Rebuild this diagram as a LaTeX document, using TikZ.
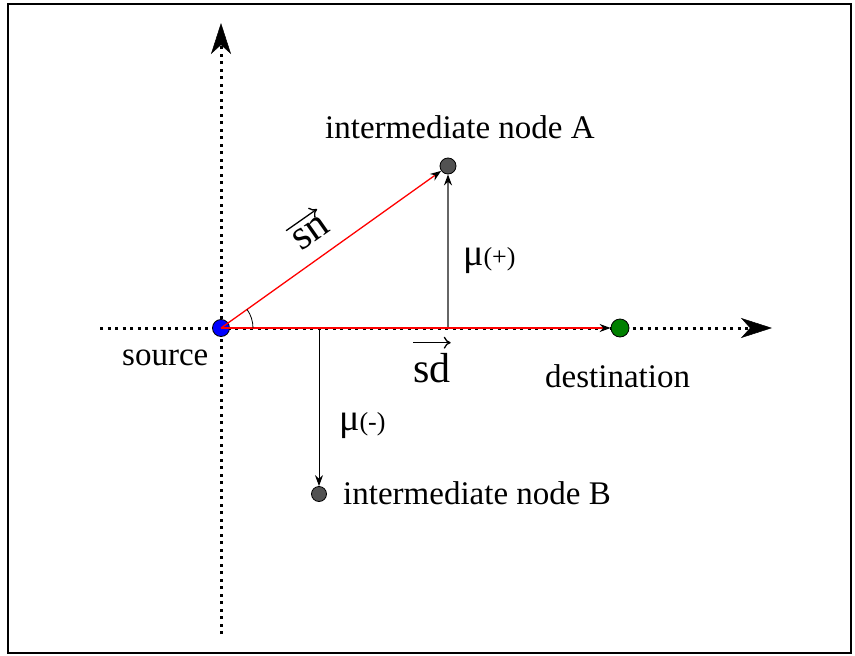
\documentclass[tikz,border=0pt]{standalone}
\usepackage{fontspec}
\setmainfont{Liberation Serif}
\usetikzlibrary{arrows.meta}
\begin{document}
\begin{tikzpicture}[x=1pt,y=-1pt,
  axis/.style={line width=3pt, dash pattern=on 3pt off 4.5pt,
    -{Stealth[length=31pt,width=20pt,inset=9pt,line width=0.5pt]}},
  dot/.style={circle, draw=black, line width=0.8pt, inner sep=0pt, minimum size=16pt},
  lab/.style={inner sep=0pt, anchor=base west, font=\fontsize{33}{40}\selectfont},
  vec/.style={inner xsep=0pt, anchor=base west, font=\fontsize{42}{50}\selectfont},
  vecarrow/.style={line width=1.3pt, -{To[length=7pt,width=12pt]}},
  redarrow/.style={red, line width=1.3pt, -{Stealth[black,length=11pt,width=8pt]}},
  mulab/.style={inner sep=0pt, anchor=base west}
]
\useasboundingbox (0,0) rectangle (855,656);
\draw[line width=2pt] (8,4) rectangle (851,653);

% axes
\coordinate (xs) at (100,328);
\coordinate (xe) at (772,328);
\coordinate (ys) at (221,634);
\coordinate (ye) at (221,23);
\draw[axis] (xs) -- (xe);
\draw[axis] (ys) -- (ye);

% nodes
\node[dot, fill=blue, minimum size=17pt] (src) at (221,328) {};
\node[dot, fill={rgb,255:red,0;green,128;blue,0}, minimum size=18pt] (dst) at (620,328) {};
\node[dot, fill=black!68] (A) at (448,166) {};
\node[dot, fill=black!68, minimum size=15pt] (B) at (319,494) {};

\coordinate (gA) at (448,328);
\coordinate (gB) at (319,328);

% projections
\draw[black!60, line width=1.5pt, -{Stealth[black,length=11pt,width=8pt]}] (gA) -- (A);
\draw[line width=1pt, -{Stealth[length=11pt,width=8pt]}] (gB) -- (B);

% vectors
\draw[redarrow] (src.center) -- (A);
\draw[redarrow] (src.center) -- (dst);

% angle
\draw[line width=0.8pt] (253,328) arc[start angle=0, end angle=-35.5, radius=32];

% labels
\node[lab] (lA) at (325,138) {intermediate node A};
\node[lab] (lB) at (343,504) {intermediate node B};
\node[lab] (ls) at (122,365) {source};
\node[lab] (ld) at (545,387) {destination};

\node[vec, inner ysep=10pt] (sd) at (413,382) {sd};
\draw[vecarrow] (sd.north west) -- (sd.north east);

\node[vec, inner ysep=6pt, rotate=35] (sn) at (301,252) {sn};
\draw[vecarrow] (sn.north west) -- (sn.north east);

\node[mulab] (mup) at (463,265) {\fontsize{38}{40}\selectfont μ\fontsize{26}{30}\selectfont(+)};
\node[mulab] (mum) at (339,430) {\fontsize{38}{40}\selectfont μ\fontsize{26}{30}\selectfont(-)};
\end{tikzpicture}
\end{document}
